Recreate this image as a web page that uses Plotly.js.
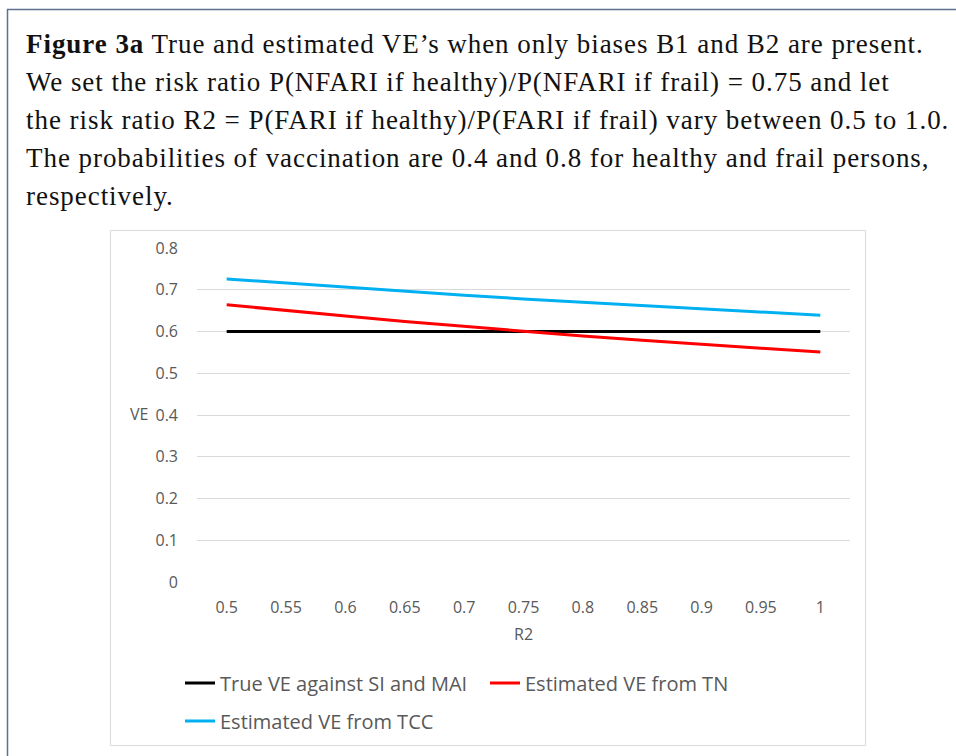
<!DOCTYPE html>
<html>
<head>
<meta charset="utf-8">
<script src="https://cdn.plot.ly/plotly-3.0.1.min.js"></script>
<style>
html,body{margin:0;padding:0;background:#fff;}
#chart{width:956px;height:756px;}
</style>
</head>
<body>
<div id="chart"></div>
<script>
const r2Labels = ["0.5","0.55","0.6","0.65","0.7","0.75","0.8","0.85","0.9","0.95","1"];
const trueVE = [0.6,0.6,0.6,0.6,0.6,0.6,0.6,0.6,0.6,0.6,0.6];
const tnVE = [0.664,0.650,0.637,0.624,0.612,0.600,0.589,0.579,0.569,0.560,0.551];
const tccVE = [0.726,0.716,0.706,0.697,0.687,0.678,0.670,0.662,0.654,0.646,0.639];
const seriesNames = ["True VE against SI and MAI","Estimated VE from TN","Estimated VE from TCC"];
const seriesColors = ["#000000","#FF0000","#00B0F0"];
const seriesLegend = ["legend","legend","legend2"];
const captionLines = [
  "<b>Figure 3a</b> True and estimated VE’s when only biases B1 and B2 are present.",
  "We set the risk ratio P(NFARI if healthy)/P(NFARI if frail) = 0.75 and let",
  "the risk ratio R2 = P(FARI if healthy)/P(FARI if frail) vary between 0.5 to 1.0.",
  "The probabilities of vaccination are 0.4 and 0.8 for healthy and frail persons,",
  "respectively."
];

const W = 956, H = 756;
const L = 197, R = 106, T = 248, B = 174;
const pw = W - L - R, ph = H - T - B;
function px(x){ return (x - L)/pw; }
function py(y){ return (H - B - y)/ph; }

const traces = [trueVE, tnVE, tccVE].map((v,i)=>({
  type:'scatter', mode:'lines', x:r2Labels, y:v, name:seriesNames[i],
  legend:seriesLegend[i],
  line:{color:seriesColors[i], width:3}
}));

const legendCommon = {orientation:'h', xanchor:'left', yanchor:'middle',
  font:{size:20, color:'#595959'}, entrywidth:260, itemwidth:30,
  bgcolor:'rgba(0,0,0,0)', borderwidth:0};

const annotations = captionLines.map((t,i)=>({
  xref:'paper', yref:'paper', x:px(24), y:py(44 + 38*i), xanchor:'left', yanchor:'middle',
  align:'left', showarrow:false,
  text:'<span style="letter-spacing:0.95px">' + t + '</span>',
  font:{family:'"Liberation Serif", serif', size:27, color:'#111'}
}));
annotations.push(
  {xref:'paper', yref:'paper', x:px(150), y:py(414), xanchor:'right', yanchor:'middle',
    showarrow:false, text:'VE', font:{size:16, color:'#595959'}},
  {xref:'paper', yref:'paper', x:px(523), y:py(634), xanchor:'center', yanchor:'middle',
    showarrow:false, text:'R2', font:{size:16, color:'#595959'}}
);

const layout = {
  width:W, height:H,
  margin:{l:L, r:R, t:T, b:B},
  paper_bgcolor:'#fff', plot_bgcolor:'#fff',
  showlegend:true,
  font:{family:'"Open Sans", sans-serif', color:'#595959'},
  xaxis:{type:'category', range:[-0.5,10.5], showgrid:false, zeroline:false, showline:false,
    ticks:'', tickfont:{size:16, color:'#595959'}, ticklabelstandoff:14, fixedrange:true},
  yaxis:{range:[0,0.8], dtick:0.1, tickformat:'.1~f', gridcolor:'#D9D9D9', gridwidth:1,
    zeroline:false, showline:false, ticks:'', tickfont:{size:16, color:'#595959'},
    ticklabelstandoff:18, fixedrange:true},
  legend:Object.assign({x:px(180), y:py(683)}, legendCommon),
  legend2:Object.assign({x:px(180), y:py(721)}, legendCommon),
  shapes:[
    {type:'rect', xref:'paper', yref:'paper', x0:px(7.5), x1:px(1000), y0:py(9.5), y1:py(800),
      line:{color:'#5B7290', width:1.5}, layer:'below'},
    {type:'rect', xref:'paper', yref:'paper', x0:px(110.5), x1:px(865.5), y0:py(230.5), y1:py(745.5),
      line:{color:'#D9D9D9', width:1}, layer:'below'}
  ],
  annotations:annotations
};

Plotly.newPlot('chart', traces, layout, {displayModeBar:false, staticPlot:true});
</script>
</body>
</html>
